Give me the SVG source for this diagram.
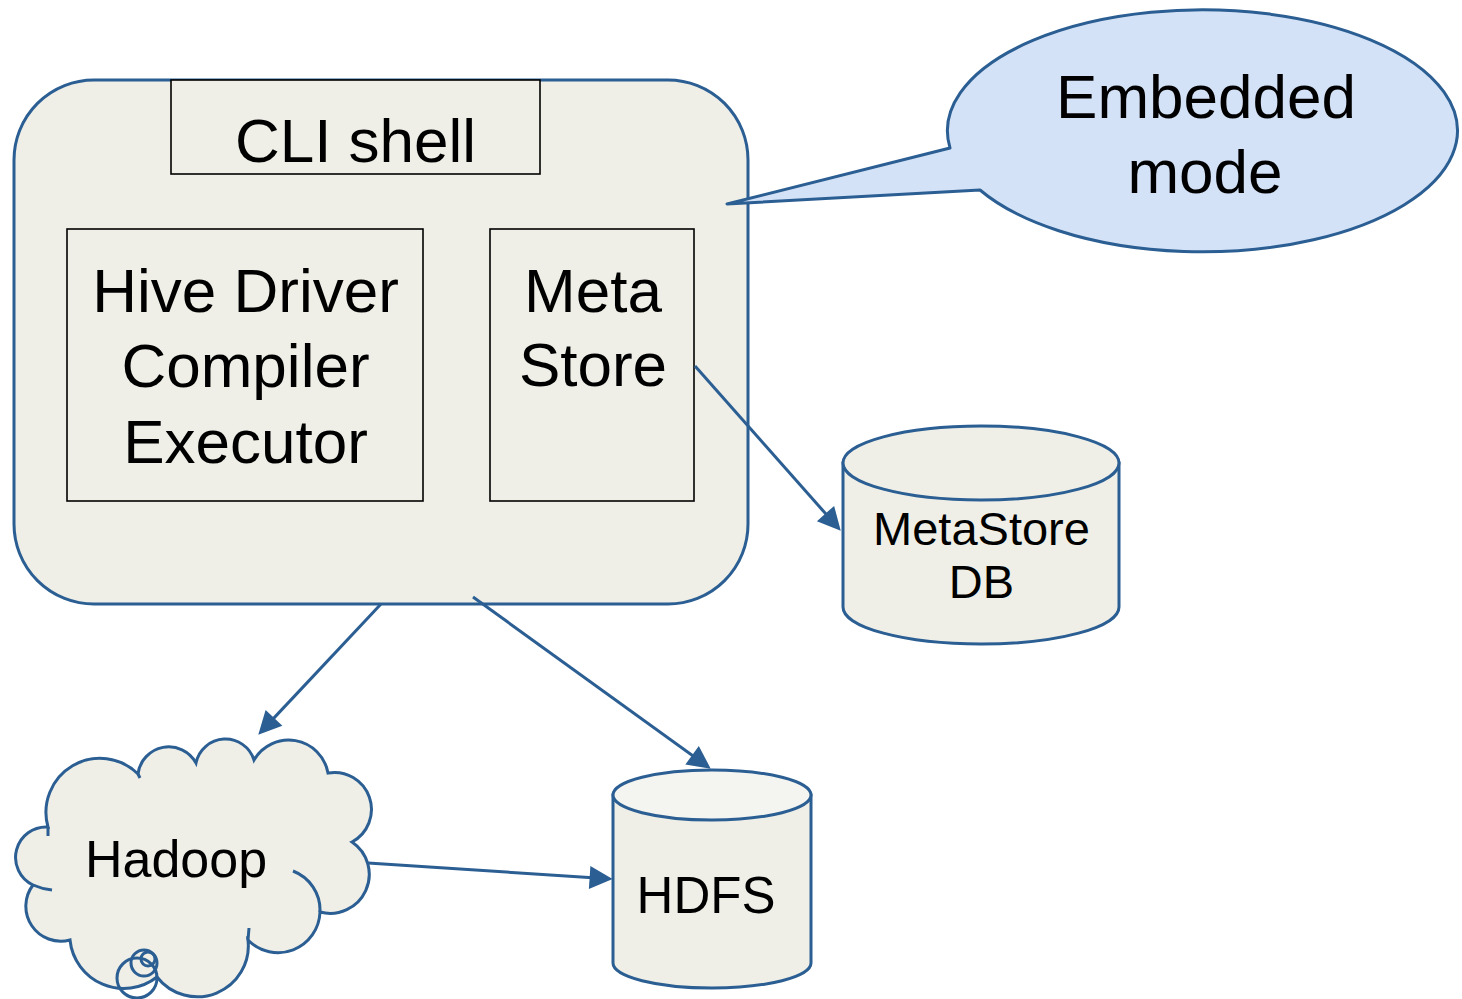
<svg xmlns="http://www.w3.org/2000/svg" width="1462" height="999" viewBox="0 0 1462 999">
<style>
  .t { font-family: "Liberation Sans", Arial, sans-serif; fill: #000; text-anchor: middle; }
  .blue { stroke: #2B5E92; stroke-width: 3; }
  .box { fill: #EFEFE8; stroke: #000; stroke-width: 1.6; }
  .conn { fill: none; stroke: #2B5E92; stroke-width: 3; marker-end: url(#arrow); }
</style>
<defs>
  <marker id="arrow" viewBox="0 0 10 10" refX="8" refY="5" markerWidth="26" markerHeight="23" markerUnits="userSpaceOnUse" orient="auto">
    <path d="M0,0 L10,5 L0,10 z" fill="#2B5E92"/>
  </marker>
</defs>
<rect width="1462" height="999" fill="#fff"/>

<g id="hive">
  <rect class="blue" x="14" y="80" width="734" height="524" rx="80" ry="80" fill="#EFEFE8"/>
</g>

<g id="callout">
  <path class="blue" fill="#D4E2F7" stroke-linejoin="round" d="M950,148 L727,204 L980,190 A255,121 0 1 0 950,148 Z"/>
  <text class="t" x="1206" y="118" font-size="62">Embedded</text>
  <text class="t" x="1205" y="193" font-size="62">mode</text>
</g>

<g id="cli-shell">
  <rect class="box" x="171" y="80" width="369" height="94"/>
  <text class="t" x="355.5" y="162" font-size="62">CLI shell</text>
</g>

<g id="driver">
  <rect class="box" x="67" y="229" width="356" height="272"/>
  <text class="t" x="245.5" y="312" font-size="62">Hive Driver</text>
  <text class="t" x="245.5" y="387" font-size="62">Compiler</text>
  <text class="t" x="245.5" y="463" font-size="62">Executor</text>
</g>

<g id="metastore">
  <rect class="box" x="490" y="229" width="204" height="272"/>
  <text class="t" x="593" y="312" font-size="62">Meta</text>
  <text class="t" x="593" y="386" font-size="62">Store</text>
</g>

<g id="metastore-db">
  <path class="blue" fill="#EFEFE8" d="M843,463 L843,607 A138,37 0 0 0 1119,607 L1119,463 Z"/>
  <ellipse class="blue" cx="981" cy="463" rx="138" ry="37" fill="#EFEFE8"/>
  <text class="t" x="981.5" y="545" font-size="47">MetaStore</text>
  <text class="t" x="981.5" y="598" font-size="47">DB</text>
</g>

<g id="hdfs">
  <path class="blue" fill="#EFEFE8" d="M613,795 L613,963 A99,25 0 0 0 811,963 L811,795 Z"/>
  <ellipse class="blue" cx="712" cy="795" rx="99" ry="25" fill="#F4F4F0"/>
  <text class="t" x="706" y="913" font-size="51">HDFS</text>
</g>

<g id="hadoop">
  <path class="blue" fill="#EFEFE8" d="M48,827 A54,54 0 0 1 138,774 A31,31 0 0 1 196,763 A30,30 0 0 1 254,760 A40,40 0 0 1 328,773 A37,37 0 0 1 352,842 A39,39 0 0 1 320,912 A42,42 0 0 1 248,940 A51,51 0 0 1 157,977 A54,54 0 0 1 70,940 A35,35 0 0 1 33,885 A30.5,30.5 0 0 1 48,827 Z"/>
  <path class="blue" fill="none" d="M293,871 A42,42 0 0 1 320,912 M33,885 Q42,889 52,890 M248,940 L249,928 M138,774 L140,778 M48,827 L48,836"/>
  <circle class="blue" cx="137" cy="978" r="20" fill="none"/>
  <circle class="blue" cx="144" cy="963" r="13" fill="none"/>
  <circle class="blue" cx="148" cy="959" r="7" fill="none"/>
  <text class="t" x="176" y="877" font-size="52">Hadoop</text>
</g>

<g id="connectors">
  <line class="conn" x1="695" y1="366" x2="837.7" y2="527.3"/>
  <line class="conn" x1="381" y1="604" x2="261.4" y2="731.4"/>
  <line class="conn" x1="473" y1="597" x2="707" y2="766"/>
  <line class="conn" x1="368" y1="863" x2="608" y2="878.7"/>
</g>
</svg>
